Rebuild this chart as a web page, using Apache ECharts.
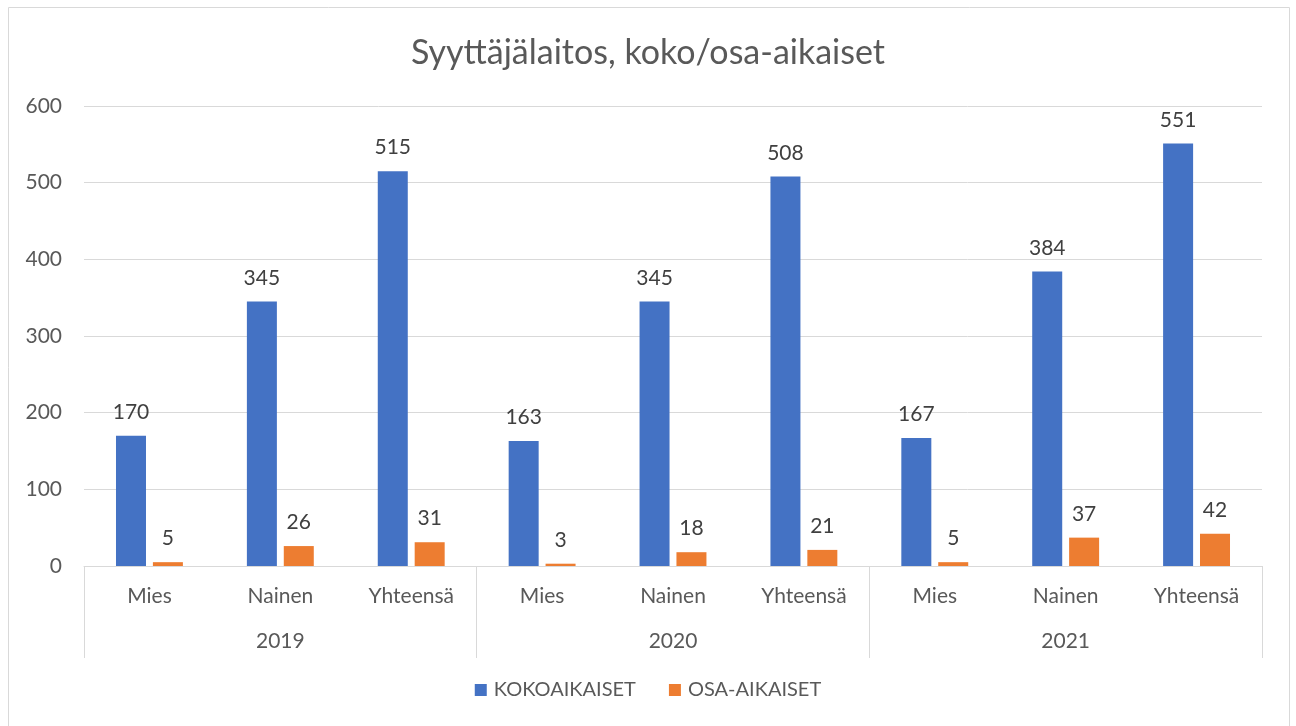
<!DOCTYPE html>
<html>
<head>
<meta charset="utf-8">
<script src="https://cdn.jsdelivr.net/npm/echarts@6/dist/echarts.min.js"></script>
<style>
  html, body { margin: 0; padding: 0; background: #fff; }
  #chart { width: 1296px; height: 726px; }
</style>
</head>
<body>
<div id="chart"></div>
<script>
var groups = ["Mies", "Nainen", "Yhteensä", "Mies", "Nainen", "Yhteensä", "Mies", "Nainen", "Yhteensä"];
var years = ["2019", "2020", "2021"];
var kokoaikaiset = [170, 345, 515, 163, 345, 508, 167, 384, 551];
var osaAikaiset = [5, 26, 31, 3, 18, 21, 5, 37, 42];
var yTicks = [0, 100, 200, 300, 400, 500, 600];

var font = "Lato, 'Open Sans', sans-serif";
var textGrey = "#595959";
var lineGrey = "#d9d9d9";

var chart = echarts.init(document.getElementById("chart"));

var labelStyle = {
    show: true,
    position: "top",
    distance: 13,
    color: "#404040",
    fontSize: 21,
    fontFamily: font
};

chart.setOption({
    animation: false,
    title: {
        text: "Syyttäjälaitos, koko/osa-aikaiset",
        left: "center",
        top: 31,
        textStyle: { color: textGrey, fontSize: 34, fontWeight: "normal", fontFamily: font }
    },
    graphic: [{
        type: "rect",
        shape: { x: 8.5, y: 7.5, width: 1281, height: 730 },
        style: { fill: "none", stroke: lineGrey, lineWidth: 1 },
        silent: true
    }],
    legend: {
        bottom: 21,
        left: "center",
        itemWidth: 12,
        itemHeight: 12,
        itemGap: 33,
        icon: "rect",
        textStyle: { color: textGrey, fontSize: 20, fontFamily: font, padding: [0, 0, 0, 2] },
        data: ["KOKOAIKAISET", "OSA-AIKAISET"]
    },
    grid: { left: 84, right: 34, top: 106, bottom: 160, containLabel: false },
    xAxis: [{
        type: "category",
        data: groups,
        axisLine: { lineStyle: { color: lineGrey } },
        axisTick: { show: false },
        axisLabel: { color: textGrey, fontSize: 21, fontFamily: font, margin: 20, interval: 0 }
    }, {
        type: "category",
        data: years,
        position: "bottom",
        axisLine: { show: false },
        axisTick: { show: true, length: 92, lineStyle: { color: lineGrey } },
        axisLabel: { color: textGrey, fontSize: 21, fontFamily: font, margin: 65 },
        splitLine: { show: false }
    }],
    yAxis: {
        type: "value",
        min: yTicks[0],
        max: yTicks[yTicks.length - 1],
        interval: 100,
        axisLine: { show: false },
        axisTick: { show: false },
        axisLabel: { color: textGrey, fontSize: 21, fontFamily: font, margin: 22 },
        splitLine: { lineStyle: { color: lineGrey } }
    },
    series: [{
        name: "KOKOAIKAISET",
        type: "bar",
        xAxisIndex: 0,
        data: kokoaikaiset,
        barWidth: 30,
        barGap: "23%",
        itemStyle: { color: "#4472C4" },
        label: labelStyle
    }, {
        name: "OSA-AIKAISET",
        type: "bar",
        xAxisIndex: 0,
        data: osaAikaiset,
        barWidth: 30,
        barGap: "23%",
        itemStyle: { color: "#ED7D31" },
        label: labelStyle
    }]
});
</script>
</body>
</html>
